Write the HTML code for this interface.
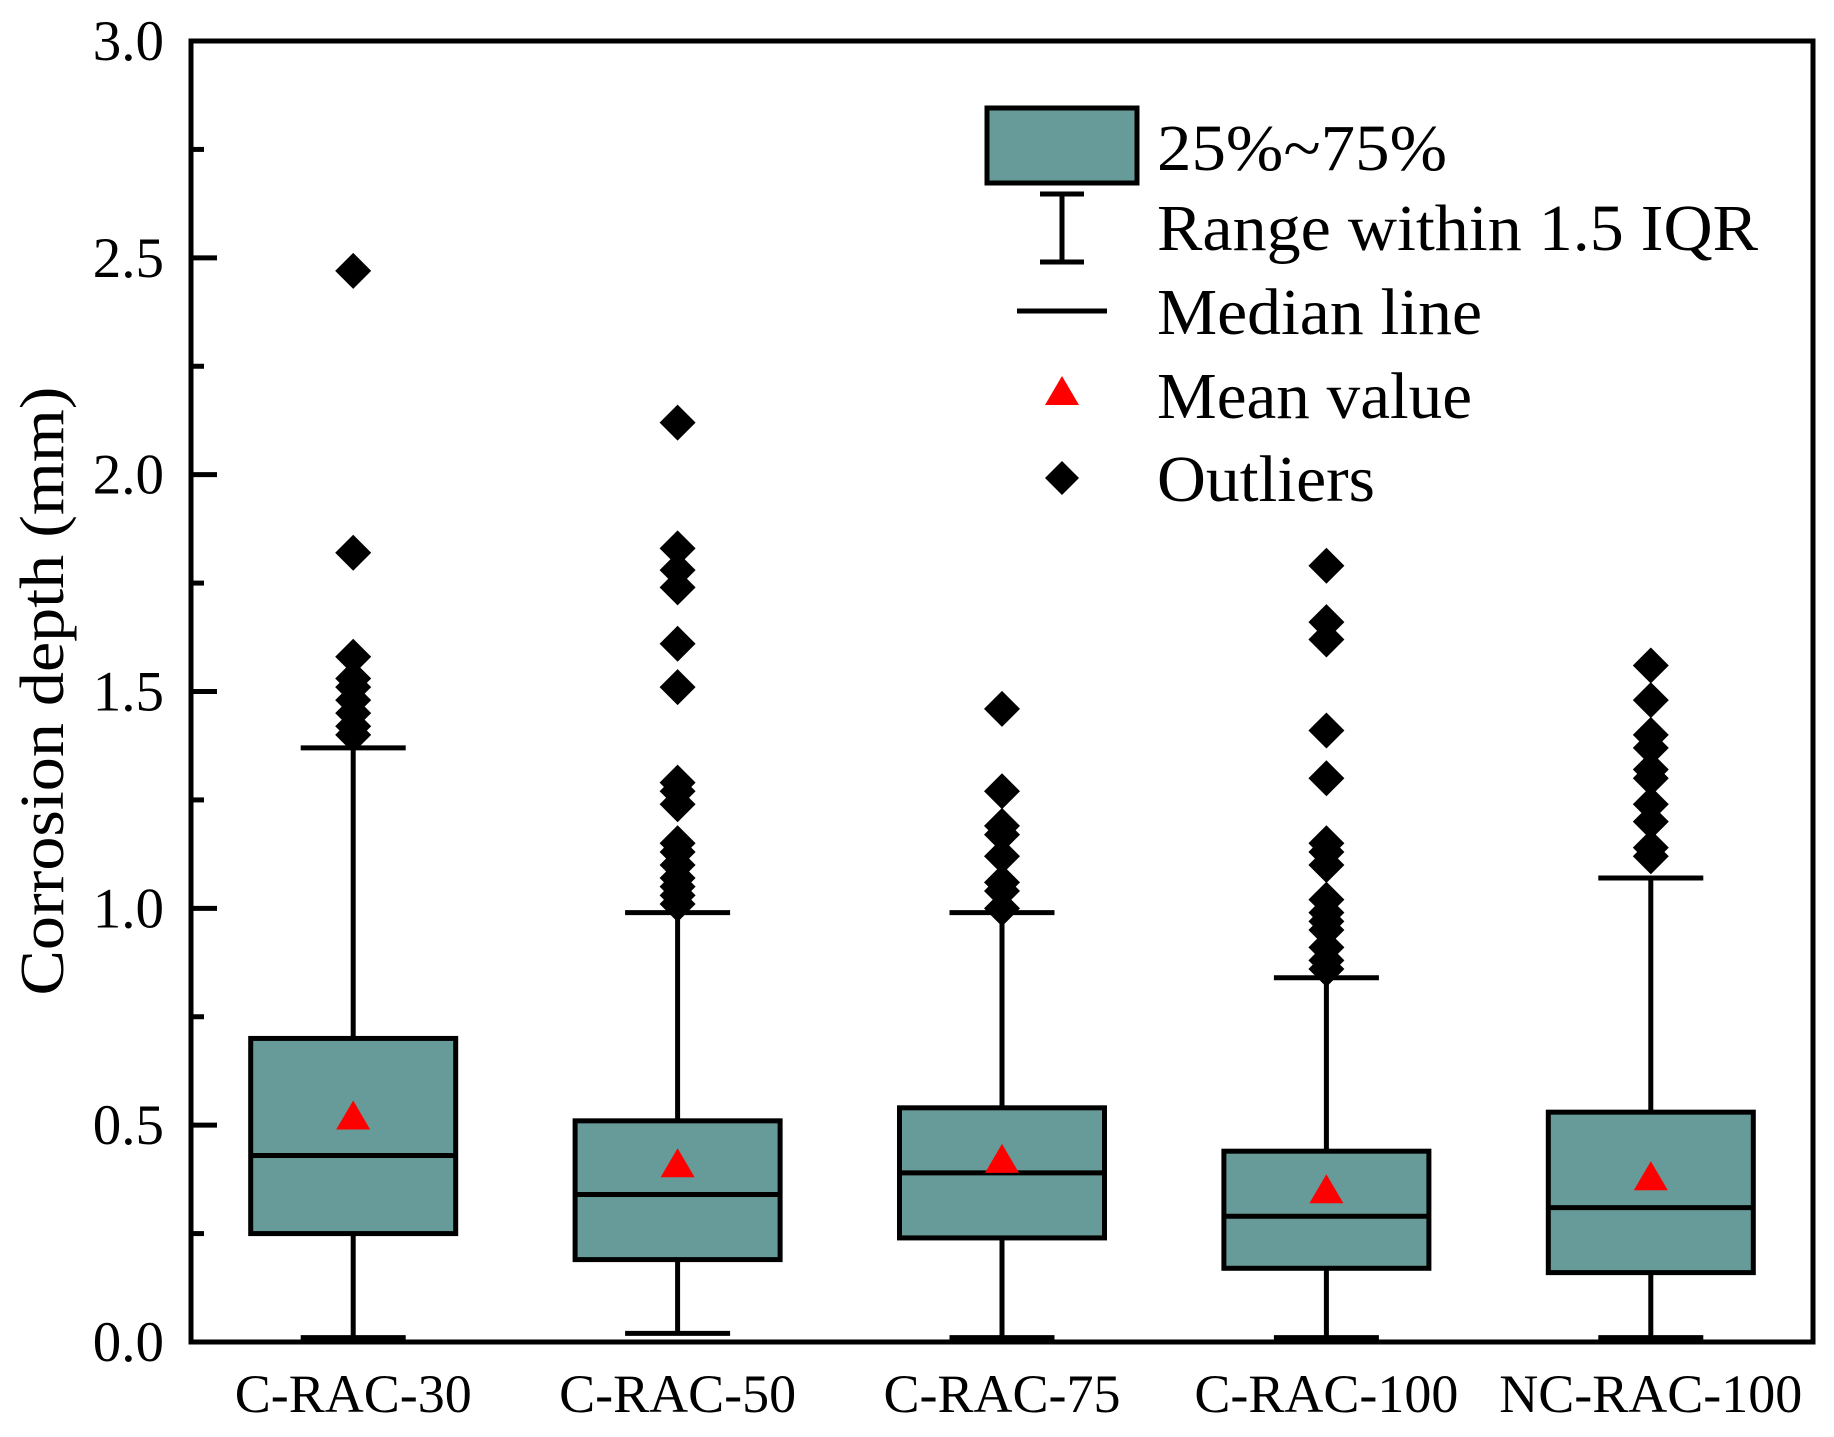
<!DOCTYPE html>
<html><head><meta charset="utf-8"><style>
html,body{margin:0;padding:0;background:#fff;}
svg{display:block;font-family:"Liberation Serif",serif;}
</style></head><body>
<svg id="chart" width="1834" height="1437" viewBox="0 0 1834 1437" xmlns="http://www.w3.org/2000/svg">
<g id="marks"></g>
<g id="axes"></g>
<g id="legend">
  <rect x="987" y="108" width="150" height="75" fill="#679b99" stroke="#000" stroke-width="5"/>
  <text x="1157" y="170" font-size="66" textLength="290" lengthAdjust="spacingAndGlyphs">25%~75%</text>
  <g stroke="#000" stroke-width="5">
    <line x1="1062" y1="194" x2="1062" y2="262"/><line x1="1040" y1="194" x2="1084" y2="194"/><line x1="1040" y1="262" x2="1084" y2="262"/>
  </g>
  <text x="1157" y="250" font-size="66" textLength="601" lengthAdjust="spacingAndGlyphs">Range within 1.5 IQR</text>
  <line x1="1017" y1="311" x2="1107" y2="311" stroke="#000" stroke-width="5"/>
  <text x="1157" y="334" font-size="66" textLength="325" lengthAdjust="spacingAndGlyphs">Median line</text>
  <polygon points="1062,376 1079,405 1045,405" fill="#ff0000"/>
  <text x="1157" y="418" font-size="66" textLength="315" lengthAdjust="spacingAndGlyphs">Mean value</text>
  <polygon points="1062,461 1079,478 1062,495 1045,478" fill="#000"/>
  <text x="1157" y="501" font-size="66" textLength="218" lengthAdjust="spacingAndGlyphs">Outliers</text>
</g>
<text transform="translate(63,691) rotate(-90)" text-anchor="middle" font-size="62" textLength="609" lengthAdjust="spacingAndGlyphs">Corrosion depth (mm)</text>
</svg>
<script>
const categories = ["C-RAC-30","C-RAC-50","C-RAC-75","C-RAC-100","NC-RAC-100"];
const q1 = [0.25, 0.19, 0.24, 0.17, 0.16];
const medians = [0.43, 0.34, 0.39, 0.29, 0.31];
const q3 = [0.70, 0.51, 0.54, 0.44, 0.53];
const means = [0.52, 0.41, 0.42, 0.35, 0.38];
const whiskerLow = [0.01, 0.02, 0.01, 0.01, 0.01];
const whiskerHigh = [1.37, 0.99, 0.99, 0.84, 1.07];
const outliers0 = [2.47, 1.82, 1.58, 1.53, 1.51, 1.48, 1.45, 1.42, 1.40];
const outliers1 = [2.12, 1.83, 1.78, 1.74, 1.61, 1.51, 1.29, 1.27, 1.24, 1.15, 1.13, 1.10, 1.07, 1.05, 1.03, 1.01];
const outliers2 = [1.46, 1.27, 1.19, 1.17, 1.12, 1.06, 1.04, 1.00];
const outliers3 = [1.79, 1.66, 1.62, 1.41, 1.30, 1.15, 1.13, 1.10, 1.02, 0.99, 0.97, 0.95, 0.91, 0.88, 0.86];
const outliers4 = [1.56, 1.48, 1.40, 1.37, 1.32, 1.30, 1.24, 1.20, 1.14, 1.12];
const yTicks = ["0.0","0.5","1.0","1.5","2.0","2.5","3.0"];
const yMin = 0, yMax = 3;

const NS = "http://www.w3.org/2000/svg";
const L = 191, R = 1813, T = 41, B = 1342;
const y = v => B - (v - yMin) / (yMax - yMin) * (B - T);
const x = i => L + (R - L) / categories.length * (i + 0.5);
function mk(tag, attrs, parent) {
  const e = document.createElementNS(NS, tag);
  for (const k in attrs) e.setAttribute(k, attrs[k]);
  parent.appendChild(e);
  return e;
}
const marks = document.getElementById("marks");
const axes = document.getElementById("axes");
const allOut = [outliers0, outliers1, outliers2, outliers3, outliers4];
const bw = 205, cw = 105;
categories.forEach((c, i) => {
  const cx = x(i);
  const g = mk("g", {}, marks);
  
  
  const wl = mk("line", {x1: cx, x2: cx, y1: y(whiskerLow[i]), y2: y(whiskerHigh[i]), stroke: "#000", "stroke-width": 5}, g);
  
  
  [whiskerLow[i], whiskerHigh[i]].forEach(v => {
    const cap = mk("line", {x1: cx - cw/2, x2: cx + cw/2, y1: y(v), y2: y(v), stroke: "#000", "stroke-width": 5}, g);
    
    
  });
  const r = mk("rect", {x: cx - bw/2, y: y(q3[i]), width: bw, height: y(q1[i]) - y(q3[i]), fill: "#679b99", stroke: "#000", "stroke-width": 5}, g);
  
  
  const m = mk("line", {x1: cx - bw/2, x2: cx + bw/2, y1: y(medians[i]), y2: y(medians[i]), stroke: "#000", "stroke-width": 5}, g);
  
  
  const my = y(means[i]);
  const tri = mk("polygon", {points: `${cx},${my-16} ${cx+17},${my+13} ${cx-17},${my+13}`, fill: "#ff0000"}, g);
  
  
  allOut[i].forEach(v => {
    const oy = y(v);
    const d = mk("polygon", {points: `${cx},${oy-18} ${cx+18},${oy} ${cx},${oy+18} ${cx-18},${oy}`, fill: "#000"}, g);
    
    
  });
  const t = mk("text", {x: cx, y: 1412, "text-anchor": "middle", "font-size": 54}, axes);
  t.textContent = c;
  
  
});
const fr = mk("rect", {x: L, y: T, width: R - L, height: B - T, fill: "none", stroke: "#000", "stroke-width": 5}, axes);


yTicks.forEach(lbl => {
  const v = parseFloat(lbl);
  const ty = y(v);
  const tk = mk("line", {x1: L, x2: L + 26, y1: ty, y2: ty, stroke: "#000", "stroke-width": 5}, axes);
  
  
  if (v < yMax) {
    const my = y(v + 0.25);
    const mt = mk("line", {x1: L, x2: L + 13, y1: my, y2: my, stroke: "#000", "stroke-width": 5}, axes);
    
    
  }
  const t = mk("text", {x: 164, y: ty + 19, "text-anchor": "end", "font-size": 57}, axes);
  t.textContent = lbl;
  
  
});
</script>
</body></html>
